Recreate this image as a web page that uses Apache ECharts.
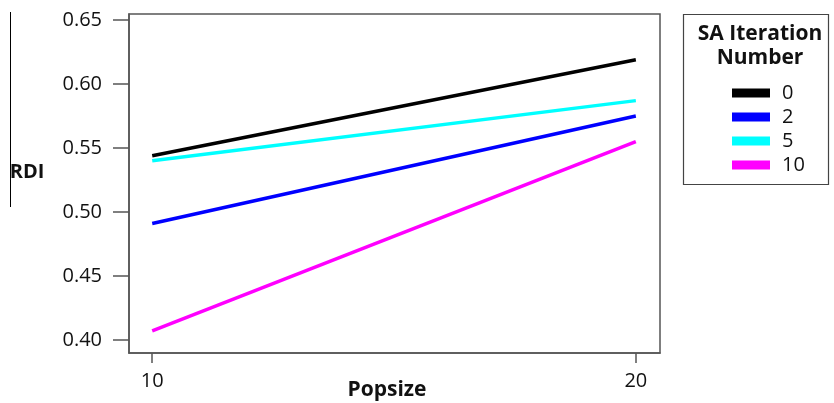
<!DOCTYPE html>
<html><head><meta charset="utf-8">
<script src="https://cdn.jsdelivr.net/npm/echarts@6/dist/echarts.min.js"></script>
<style>html,body{margin:0;padding:0;background:#fff}#c{width:834px;height:403px}</style>
</head><body><div id="c"></div>
<script>
const popsize = [10, 20];
const seriesNames = ['0', '2', '5', '10'];
const seriesColors = ['#000000', '#0000ff', '#00ffff', '#ff00ff'];
const rdi0 = [0.544, 0.619];
const rdi2 = [0.491, 0.575];
const rdi5 = [0.540, 0.587];
const rdi10 = [0.407, 0.555];
const yTicks = [0.40, 0.45, 0.50, 0.55, 0.60, 0.65];
const xTicks = [10, 20];
const values = [rdi0, rdi2, rdi5, rdi10];

const font = '"Open Sans", "Noto Sans", sans-serif';
const chart = echarts.init(document.getElementById('c'));
chart.setOption({
  animation: false,
  backgroundColor: '#fff',
  grid: { left: 129, top: 14, right: 174, bottom: 50, show: true, borderColor: '#555', borderWidth: 1.5, backgroundColor: 'transparent' },
  xAxis: {
    type: 'value', min: 9.52, max: 20.5,
    axisLine: { show: true, lineStyle: { color: '#555', width: 1.5 } },
    axisTick: { show: true, length: 10, lineStyle: { color: '#555', width: 1.5 }, customValues: xTicks },
    axisLabel: { customValues: xTicks, color: '#111', fontSize: 20, fontFamily: font, margin: 18 },
    splitLine: { show: false }
  },
  yAxis: {
    type: 'value', min: 0.3898, max: 0.6547,
    axisLine: { show: true, lineStyle: { color: '#555', width: 1.5 } },
    axisTick: { show: true, length: 16, lineStyle: { color: '#555', width: 1.5 }, customValues: yTicks },
    axisLabel: { customValues: yTicks, color: '#111', fontSize: 20, fontFamily: font, margin: 27, formatter: v => v.toFixed(2) },
    splitLine: { show: false }
  },
  legend: {
    orient: 'vertical', left: 727, top: 78,
    data: seriesNames, icon: 'rect', itemWidth: 38, itemHeight: 9, itemGap: 4,
    textStyle: { fontSize: 20, fontFamily: font, color: '#111', lineHeight: 20, padding: [0,0,0,7] }
  },
  series: seriesNames.map((n, i) => ({
    name: n, type: 'line', symbol: 'none',
    data: popsize.map((x, j) => [x, values[i][j]]),
    lineStyle: { color: seriesColors[i], width: 3.5 },
    itemStyle: { color: seriesColors[i] }
  })),
  graphic: [
    { type: 'rect', shape: { x: 683.5, y: 14.5, width: 145, height: 170 }, style: { fill: 'none', stroke: '#444', lineWidth: 1.2 } },
    { type: 'text', x: 760, y: 22, style: { text: 'SA Iteration\nNumber', fontSize: 21, fontWeight: 'bold', fontFamily: font, fill: '#111', align: 'center', lineHeight: 24 } },
    { type: 'text', x: 27, y: 172, style: { text: 'RDI', fontSize: 20, fontWeight: 'bold', fontFamily: font, fill: '#111', align: 'center', verticalAlign: 'middle' } },
    { type: 'text', x: 387, y: 390, style: { text: 'Popsize', fontSize: 21, fontWeight: 'bold', fontFamily: font, fill: '#111', align: 'center', verticalAlign: 'middle' } },
    { type: 'line', shape: { x1: 10.5, y1: 12, x2: 10.5, y2: 207 }, style: { stroke: '#000', lineWidth: 1 } }
  ]
});
</script></body></html>
